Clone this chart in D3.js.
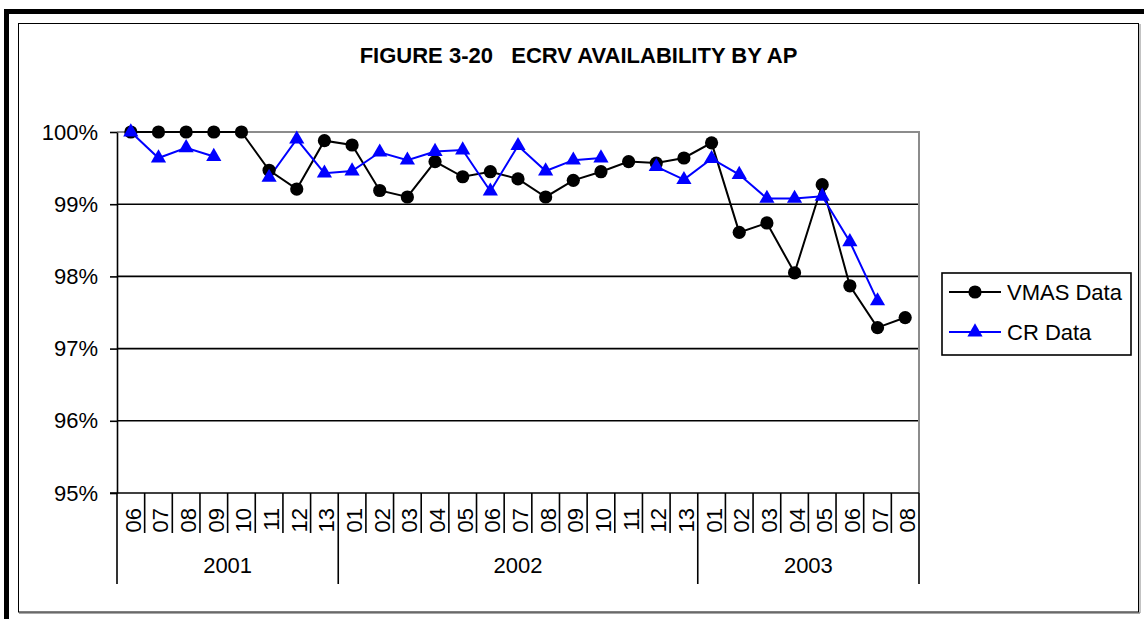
<!DOCTYPE html>
<html>
<head>
<meta charset="utf-8">
<script src="https://cdn.jsdelivr.net/npm/d3@7/dist/d3.min.js"></script>
<style>
  html, body { margin: 0; padding: 0; background: #fff; }
  svg { display: block; }
  text { font-family: "Liberation Sans", Arial, sans-serif; fill: #000; }
</style>
</head>
<body>
<svg id="chart" width="1144" height="619"></svg>
<script>
// Reporting periods (accounting months) grouped by fiscal year
const yearLabels = ["2001", "2002", "2003"];
const monthLabels = [
  ["06", "07", "08", "09", "10", "11", "12", "13"],
  ["01", "02", "03", "04", "05", "06", "07", "08", "09", "10", "11", "12", "13"],
  ["01", "02", "03", "04", "05", "06", "07", "08"]
];

// Availability, one value per period (null = no report)
const vmasData = [
  1.0000, 1.0000, 1.0000, 1.0000, 1.0000, 0.9947, 0.9921, 0.9988,
  0.9982, 0.9919, 0.9910, 0.9959, 0.9938, 0.9945, 0.9935, 0.9910, 0.9933, 0.9945, 0.9959, 0.9957, 0.9964,
  0.9985, 0.9861, 0.9874, 0.9805, 0.9927, 0.9787, 0.9729, 0.9743
];
const crData = [
  1.0000, 0.9964, 0.9978, 0.9966, null, 0.9937, 0.9990, 0.9943,
  0.9946, 0.9972, 0.9961, 0.9973, 0.9975, 0.9918, 0.9981, 0.9946, 0.9961, 0.9964, null, 0.9952, 0.9934,
  0.9963, 0.9941, 0.9908, 0.9908, 0.9911, 0.9848, 0.9766, null
];

const yTicks = [0.95, 0.96, 0.97, 0.98, 0.99, 1.00];
const seriesNames = ["VMAS Data", "CR Data"];
const titleText = "FIGURE 3-20   ECRV AVAILABILITY BY AP";

// Flatten periods into unique keys
const periods = [];
yearLabels.forEach((yr, yi) => monthLabels[yi].forEach(m => periods.push({ key: yr + "-" + m, year: yr, month: m })));
const keys = periods.map(p => p.key);

const svg = d3.select("#chart");
const FONT = 22;
const plot = { left: 117, right: 919, top: 132, bottom: 493 };

// Frame: heavy rule at top and left, thin chart-area border inside
svg.append("rect").attr("x", 4).attr("y", 9).attr("width", 1140).attr("height", 5).attr("fill", "#000");
svg.append("rect").attr("x", 4).attr("y", 9).attr("width", 5).attr("height", 610).attr("fill", "#000");
svg.append("rect").attr("x", 18.5).attr("y", 23.5).attr("width", 1120).attr("height", 588.5)
  .attr("fill", "none").attr("stroke", "#000").attr("stroke-width", 1);
svg.append("line").attr("x1", 19).attr("x2", 1140).attr("y1", 613).attr("y2", 613)
  .attr("stroke", "#555").attr("stroke-width", 1.2);
svg.append("line").attr("x1", 1140).attr("x2", 1140).attr("y1", 24).attr("y2", 613)
  .attr("stroke", "#888").attr("stroke-width", 1);

// Title
svg.append("text")
  .attr("x", 578.5).attr("y", 63)
  .attr("text-anchor", "middle")
  .attr("font-size", FONT).attr("font-weight", "bold")
  .style("white-space", "pre")
  .text(titleText);

// Scales
const x = d3.scaleBand().domain(keys).range([plot.left, plot.right]).paddingInner(0).paddingOuter(0);
const y = d3.scaleLinear().domain([0.95, 1.00]).range([plot.bottom, plot.top]);

// Horizontal gridlines
svg.append("g")
  .selectAll("line")
  .data(yTicks.filter(v => v > 0.95 && v < 1.0))
  .join("line")
  .attr("x1", plot.left).attr("x2", plot.right)
  .attr("y1", d => y(d)).attr("y2", d => y(d))
  .attr("stroke", "#000").attr("stroke-width", 1.6);

// Plot area border (gray top and right)
svg.append("path")
  .attr("d", `M${plot.left},${y(1.0)}H${plot.right}V${plot.bottom}`)
  .attr("fill", "none").attr("stroke", "#8c8c8c").attr("stroke-width", 2);

// Value axis
const yAxis = d3.axisLeft(y).tickValues(yTicks).tickFormat(d3.format(".0%")).tickSize(7).tickSizeOuter(0).tickPadding(12);
const gy = svg.append("g").attr("transform", `translate(${plot.left},0)`).call(yAxis);
gy.select(".domain").attr("stroke", "#000").attr("stroke-width", 1.6);
gy.selectAll(".tick line").attr("stroke", "#000").attr("stroke-width", 1.6);
gy.selectAll(".tick text").attr("font-size", FONT).attr("font-family", "Liberation Sans, Arial, sans-serif").attr("fill", "#000");

// Category axis line
svg.append("line")
  .attr("x1", plot.left - 7).attr("x2", plot.right)
  .attr("y1", plot.bottom).attr("y2", plot.bottom)
  .attr("stroke", "#000").attr("stroke-width", 1.6);

// Period separators; year boundaries run further down
const yearStarts = new Set();
let acc = 0;
monthLabels.forEach(ms => { yearStarts.add(acc); acc += ms.length; });
yearStarts.add(acc);
const boundaries = d3.range(keys.length + 1).map(i => ({
  i,
  xPos: i < keys.length ? x(keys[i]) : x(keys[keys.length - 1]) + x.bandwidth(),
  isYear: yearStarts.has(i)
}));
svg.append("g")
  .selectAll("line")
  .data(boundaries)
  .join("line")
  .attr("x1", d => d.xPos).attr("x2", d => d.xPos)
  .attr("y1", plot.bottom).attr("y2", d => d.isYear ? 584 : 533)
  .attr("stroke", "#000").attr("stroke-width", 1.6);

// Month labels, rotated
svg.append("g")
  .selectAll("text")
  .data(periods)
  .join("text")
  .attr("transform", d => `translate(${x(d.key) + x.bandwidth() / 2 + 10},508) rotate(-90)`)
  .attr("text-anchor", "end")
  .attr("font-size", FONT)
  .text(d => d.month);

// Year labels centred under their span
svg.append("g")
  .selectAll("text")
  .data(yearLabels.map((yr, yi) => {
    const ks = keys.filter(k => k.startsWith(yr + "-"));
    return { yr, cx: (x(ks[0]) + x(ks[ks.length - 1]) + x.bandwidth()) / 2 };
  }))
  .join("text")
  .attr("x", d => d.cx).attr("y", 573)
  .attr("text-anchor", "middle")
  .attr("font-size", FONT)
  .text(d => d.yr);

// Series lines
const cx = (d, i) => x(keys[i]) + x.bandwidth() / 2;
const line = d3.line().defined(d => d != null).x(cx).y(d => y(d));

svg.append("path").datum(vmasData)
  .attr("d", line).attr("fill", "none").attr("stroke", "#000").attr("stroke-width", 2);
svg.append("path").datum(crData)
  .attr("d", line).attr("fill", "none").attr("stroke", "#0000ff").attr("stroke-width", 2);

// Markers
const tri = d3.symbol().type(d3.symbolTriangle).size(100);
svg.append("g")
  .selectAll("circle")
  .data(vmasData.map((v, i) => ({ v, i })).filter(d => d.v != null))
  .join("circle")
  .attr("cx", d => cx(d.v, d.i)).attr("cy", d => y(d.v)).attr("r", 6.6)
  .attr("fill", "#000");
svg.append("g")
  .selectAll("path")
  .data(crData.map((v, i) => ({ v, i })).filter(d => d.v != null))
  .join("path")
  .attr("transform", d => `translate(${cx(d.v, d.i)},${y(d.v)})`)
  .attr("d", tri)
  .attr("fill", "#0000ff");

// Legend
const lg = svg.append("g");
lg.append("rect").attr("x", 942).attr("y", 273).attr("width", 189).attr("height", 82)
  .attr("fill", "#fff").attr("stroke", "#000").attr("stroke-width", 1.6);
const legendRows = [
  { name: seriesNames[0], color: "#000", shape: "circle", yPos: 292 },
  { name: seriesNames[1], color: "#0000ff", shape: "triangle", yPos: 332 }
];
legendRows.forEach(r => {
  lg.append("line").attr("x1", 949).attr("x2", 1001).attr("y1", r.yPos).attr("y2", r.yPos)
    .attr("stroke", r.color).attr("stroke-width", 2);
  if (r.shape === "circle") {
    lg.append("circle").attr("cx", 975).attr("cy", r.yPos).attr("r", 6.6).attr("fill", r.color);
  } else {
    lg.append("path").attr("transform", `translate(975,${r.yPos})`).attr("d", tri).attr("fill", r.color);
  }
  lg.append("text").attr("x", 1007).attr("y", r.yPos).attr("dy", "0.36em")
    .attr("font-size", FONT).text(r.name);
});
</script>
</body>
</html>
